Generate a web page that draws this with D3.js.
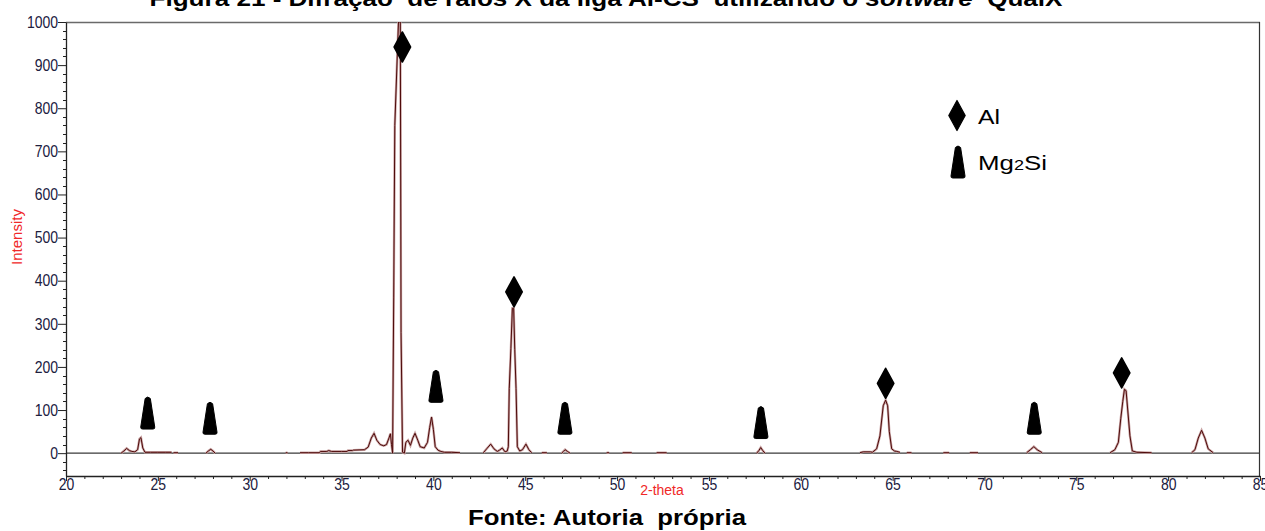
<!DOCTYPE html>
<html>
<head>
<meta charset="utf-8">
<script src="https://cdn.jsdelivr.net/npm/d3@7"></script>
<style>
  body { margin: 0; background: #fff; }
  svg { display: block; }
  text { white-space: pre; }
</style>
</head>
<body>
<svg id="chart" width="1265" height="531"></svg>
<script>
// XRD pattern of the Al-CS alloy (QualX). A null intensity breaks the trace.
const twoTheta = [
  23.00, 23.15, 23.30, 23.45, 23.58, 23.75, 23.90, 24.00, 24.08, 24.18, 24.30, 24.60, 25.00, 25.40, 25.75, null,
  25.85, 26.10, null,
  27.62, 27.75, 27.88, 28.00, 28.12, null,
  31.96, 32.06, null,
  32.74, 33.20, 33.80, 33.85, 34.20, 34.30, 34.45, 35.00, 35.30, 35.35, 35.60, 35.65, 36.25, 36.45, 36.62, 36.77,
  36.92, 37.10, 37.30, 37.45, 37.58, 37.66, 37.72, 37.78, 37.84, 37.90, 38.10, 38.20, 38.24, 38.32, 38.42, 38.50,
  38.62, 38.75, 38.88, 39.00, 39.15, 39.28, 39.50, 39.68, 39.80, 39.90, 40.00, 40.10, 40.25, 40.40, 40.60, 41.00,
  41.45, null,
  42.72, 42.90, 43.12, 43.30, 43.48, 43.60, 43.75, 43.90, 44.02, 44.08, 44.13, 44.22, 44.30, 44.37, 44.43, 44.50,
  44.57, 44.70, 44.85, 45.04, 45.20, 45.35, null,
  45.90, 46.18, null,
  46.98, 47.08, 47.17, 47.30, 47.44, null,
  49.43, 49.57, null,
  50.30, 50.80, null,
  52.15, 52.70, null,
  57.60, 57.72, 57.82, 57.93, 58.05, null,
  63.22, 63.40, 63.80, 63.90, 64.13, 64.31, 64.49, 64.62, 64.73, 64.82, 64.95, 65.10, 65.22, 65.40, null,
  65.77, 66.03, null,
  67.76, 68.08, null,
  69.20, 69.65, null,
  72.30, 72.50, 72.69, 72.87, 73.14, null,
  76.84, 77.10, 77.29, 77.42, 77.53, 77.62, 77.71, 77.80, 77.92, 78.05, 78.30, 79.10, null,
  81.28, 81.46, 81.64, 81.82, 82.00, 82.18, 82.45
];
const intensity = [
  0, 5, 11, 6, 4, 3, 8, 33, 36, 12, 2, 2, 2, 2, 2, null,
  1, 1, null,
  0, 5, 9, 5, 0, null,
  1, 1, null,
  1, 1, 1, 4, 4, 6, 4, 4, 4, 6, 6, 7, 8, 14, 35, 46,
  30, 20, 17, 20, 35, 45, 20, 0, 360, 760, 1000, 1000, 280, 2, 0, 25,
  30, 18, 35, 46, 30, 15, 12, 25, 60, 84, 55, 15, 7, 4, 2, 2,
  1, null,
  1, 10, 21, 10, 4, 7, 12, 3, 5, 15, 150, 243, 336, 336, 240, 150,
  15, 5, 8, 21, 8, 1, null,
  1, 1, null,
  0, 4, 8, 4, 0, null,
  1, 1, null,
  1, 1, null,
  1, 1, null,
  0, 6, 13, 6, 0, null,
  1, 3, 3, 2, 10, 40, 110, 123, 110, 50, 10, 5, 4, 2, null,
  1, 1, null,
  1, 1, null,
  1, 1, null,
  1, 8, 15, 8, 1, null,
  1, 8, 25, 80, 120, 148, 145, 100, 40, 5, 2, 1, null,
  1, 8, 35, 53, 35, 10, 1
];

// Phase markers: peak position (2-theta) and the intensity level where each symbol sits
const alTheta = [38.31, 44.39, 64.62, 77.47];
const alMarkY = [942, 374, 162, 186];
const mg2siTheta = [24.45, 27.84, 40.14, 47.16, 57.83, 72.71];
const mg2siMarkY = [93, 81, 155, 81, 71, 81];

// Axis ticks
const xTicks = [20, 25, 30, 35, 40, 45, 50, 55, 60, 65, 70, 75, 80, 85];
const yTicks = [0, 100, 200, 300, 400, 500, 600, 700, 800, 900, 1000];

const titleText = "Figura 21 - Difração  de raios X da liga Al-CS  utilizando o ";
const titleItalic = "software";
const titleEnd = "  QualX";
const sourceText = "Fonte: Autoria  própria";

const svg = d3.select("#chart");
const plotL = 66, plotR = 1260, plotT = 22, plotB = 476;

const x = d3.scaleLinear().domain([20, 85]).range([plotL, plotR]);
const y = d3.scaleLinear().domain([-53, 1000]).range([plotB, plotT]);

const tickFont = "'Liberation Sans', Arial, sans-serif";
const tickColor = "#20203e";

// Title (runs off the top edge of the page) and source line
const title = svg.append("text")
  .attr("x", 606).attr("y", 6)
  .attr("text-anchor", "middle")
  .attr("font-family", "'Liberation Sans', Arial, sans-serif")
  .attr("font-weight", "bold").attr("font-size", 22)
  .attr("textLength", 913).attr("lengthAdjust", "spacingAndGlyphs")
  .attr("fill", "#000");
title.append("tspan").text(titleText);
title.append("tspan").attr("font-style", "italic").text(titleItalic);
title.append("tspan").text(titleEnd);

svg.append("text")
  .attr("x", 607).attr("y", 525)
  .attr("text-anchor", "middle")
  .attr("font-family", "'Liberation Sans', Arial, sans-serif")
  .attr("font-weight", "bold").attr("font-size", 22)
  .attr("textLength", 278).attr("lengthAdjust", "spacingAndGlyphs")
  .attr("fill", "#000")
  .text(sourceText);

// Frame: top and right borders
svg.append("line").attr("x1", plotL).attr("x2", plotR).attr("y1", plotT + 0.5).attr("y2", plotT + 0.5)
  .attr("stroke", "#6a6a6a").attr("stroke-width", 1.4);
svg.append("line").attr("x1", plotR - 0.5).attr("x2", plotR - 0.5).attr("y1", plotT).attr("y2", plotB)
  .attr("stroke", "#333").attr("stroke-width", 1.2);

// Zero line
svg.append("line").attr("x1", plotL).attr("x2", plotR).attr("y1", y(0)).attr("y2", y(0))
  .attr("stroke", "#3a3a3a").attr("stroke-width", 1.2);

// Minor ticks
const gMinor = svg.append("g").attr("stroke", "#222").attr("stroke-width", 1);
gMinor.selectAll("line.mx").data(d3.range(21, 85).filter(v => v % 5 !== 0)).join("line")
  .attr("x1", d => x(d) + 0.5).attr("x2", d => x(d) + 0.5)
  .attr("y1", plotB).attr("y2", plotB + 3);
gMinor.selectAll("line.my").data(d3.range(-40, 1000, 20).filter(v => v % 100 !== 0)).join("line")
  .attr("x1", plotL - 3).attr("x2", plotL + 1)
  .attr("y1", d => Math.round(y(d)) + 0.5).attr("y2", d => Math.round(y(d)) + 0.5);

// Bottom axis
const gx = svg.append("g").attr("transform", `translate(0,${plotB})`)
  .call(d3.axisBottom(x).tickValues(xTicks).tickFormat(d3.format("d"))
    .tickSize(5).tickSizeOuter(0).tickPadding(-3));
gx.select(".domain").attr("stroke", "#222").attr("stroke-width", 1.3);
gx.selectAll(".tick line").attr("stroke", "#222");
gx.selectAll(".tick text")
  .attr("font-family", tickFont).attr("font-size", 14).attr("fill", tickColor)
  .attr("y", 1.5).attr("transform", "scale(1,1.18)");

// Left axis
const gy = svg.append("g").attr("transform", `translate(${plotL},0)`)
  .call(d3.axisLeft(y).tickValues(yTicks).tickFormat(d3.format("d"))
    .tickSize(8).tickSizeOuter(0).tickPadding(0));
gy.select(".domain").attr("stroke", "#222").attr("stroke-width", 1.3);
gy.selectAll(".tick line").attr("stroke", "#222");
gy.selectAll(".tick text")
  .attr("font-family", tickFont).attr("font-size", 14).attr("fill", tickColor)
  .attr("transform", "scale(1,1.18)");

// Axis titles
svg.append("text").attr("x", 662).attr("y", 495)
  .attr("text-anchor", "middle")
  .attr("font-family", "'Liberation Sans', Arial, sans-serif").attr("font-size", 14)
  .attr("fill", "#f02828").text("2-theta");
svg.append("text").attr("transform", "translate(22,237) rotate(-90)")
  .attr("text-anchor", "middle")
  .attr("font-family", "'Liberation Sans', Arial, sans-serif").attr("font-size", 15)
  .attr("fill", "#f02828").text("Intensity");

// Diffraction trace, clipped to the plot area
svg.append("clipPath").attr("id", "plotClip")
  .append("rect").attr("x", plotL).attr("y", plotT).attr("width", plotR - plotL).attr("height", plotB - plotT);

const pts = twoTheta.map((t, i) => [t, intensity[i]]);
const line = d3.line()
  .defined(d => d[0] !== null && d[1] !== null)
  .x(d => x(d[0])).y(d => y(d[1]));

const gTrace = svg.append("g").attr("clip-path", "url(#plotClip)");
gTrace.append("path").datum(pts).attr("d", line)
  .attr("fill", "none").attr("stroke", "#c9a4a4").attr("stroke-width", 2.4).attr("stroke-linejoin", "miter");
gTrace.append("path").datum(pts).attr("d", line)
  .attr("fill", "none").attr("stroke", "#4e0a0a").attr("stroke-width", 1).attr("stroke-linejoin", "miter");

// Marker symbols
const diamondPath = "M0,-15 L8.2,0 L0,15 L-8.2,0 Z";
const conePath = "M-2.6,-14.5 Q0,-17.5 2.6,-14.5 L7,14 Q7.3,16 5.2,16 L-5.2,16 Q-7.3,16 -7,14 Z";

svg.append("g").selectAll("path").data(alTheta).join("path")
  .attr("transform", (d, i) => `translate(${x(d)},${y(alMarkY[i])})`)
  .attr("d", diamondPath).attr("fill", "#000")
  .attr("stroke", "#000").attr("stroke-width", 1.6).attr("stroke-linejoin", "round");

svg.append("g").selectAll("path").data(mg2siTheta).join("path")
  .attr("transform", (d, i) => `translate(${x(d)},${y(mg2siMarkY[i])})`)
  .attr("d", conePath).attr("fill", "#000")
  .attr("stroke", "#000").attr("stroke-width", 1).attr("stroke-linejoin", "round");

// Legend
const legend = svg.append("g");
legend.append("path").attr("transform", "translate(957,115.5)")
  .attr("d", diamondPath).attr("fill", "#000")
  .attr("stroke", "#000").attr("stroke-width", 1.2).attr("stroke-linejoin", "round");
legend.append("text").attr("x", 978).attr("y", 124)
  .attr("font-family", "'Liberation Sans', Arial, sans-serif").attr("font-size", 20)
  .attr("textLength", 22).attr("lengthAdjust", "spacingAndGlyphs")
  .attr("fill", "#000").text("Al");

legend.append("path").attr("transform", "translate(958,162)")
  .attr("d", conePath).attr("fill", "#000")
  .attr("stroke", "#000").attr("stroke-width", 1).attr("stroke-linejoin", "round");
const mgText = legend.append("text").attr("x", 978).attr("y", 170)
  .attr("font-family", "'Liberation Sans', Arial, sans-serif").attr("font-size", 20)
  .attr("textLength", 69).attr("lengthAdjust", "spacingAndGlyphs")
  .attr("fill", "#000");
mgText.append("tspan").text("Mg");
mgText.append("tspan").attr("font-size", 14).text("2");
mgText.append("tspan").text("Si");
</script>
</body>
</html>
